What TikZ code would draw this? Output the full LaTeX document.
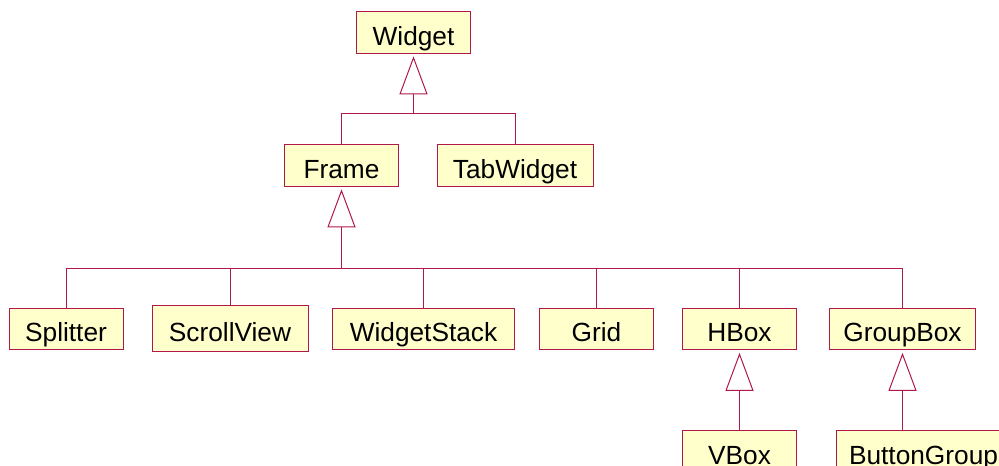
\documentclass[tikz,border=0pt]{standalone}
\usepackage{fontspec}
\setmainfont{Liberation Sans}
\usepackage{xcolor}
\usepackage{tikz}
\usetikzlibrary{arrows.meta, calc}

\definecolor{umlline}{RGB}{176,24,76}
\definecolor{umlfill}{RGB}{255,255,204}

\begin{document}
\begin{tikzpicture}[
    x=0.75pt, y=-0.75pt,
    cls/.style={
        rectangle,
        draw=umlline,
        fill=umlfill,
        line width=0.75pt,
        minimum height=31pt,
        inner sep=0pt,
        text height=19pt,
        text depth=0pt,
        font=\fontsize{19.7}{23}\selectfont
    },
    link/.style={
        draw=umlline,
        line width=0.75pt
    },
    inherit/.style={
        link,
        -{Triangle[open, length=28.5pt, width=21pt]},
        shorten >=2pt
    }
]
\useasboundingbox (0,0) rectangle (999,466);

% Classes
\node [cls, minimum width=85pt] (widget) at (413.5,32.5) {Widget};
\node [cls, minimum width=85pt] (frame) at (341.5,165.5) {Frame};
\node [cls, minimum width=117pt] (tab) at (515,165.5) {TabWidget};

\node [cls, minimum width=85.5pt] (split) at (66,329) {Splitter};
\node [cls, minimum width=117pt, minimum height=34pt] (scroll) at (230,328.5) {ScrollView};
\node [cls, minimum width=136pt] (stack) at (423.5,329) {WidgetStack};
\node [cls, minimum width=85pt] (grid) at (596.5,329) {Grid};
\node [cls, minimum width=85pt] (hbox) at (739.5,329) {HBox};
\node [cls, minimum width=110pt] (groupbox) at (902.5,329) {GroupBox};

\node [cls, minimum width=85pt] (vbox) at (739.5,451.5) {VBox};
\node [cls, minimum width=130pt] (bgroup) at (923.5,451.5) {ButtonGroup};

% Inheritance
\coordinate (wbar) at ($(widget.south)+(0,60)$);
\draw [link] (frame.north) |- (wbar) -| (tab.north);
\draw [inherit] (wbar) -- (widget.south);

\coordinate (fbar) at ($(frame.south)+(0,82)$);
\foreach \c in {split, scroll, stack, grid, hbox, groupbox}
    \draw [link] (\c.north) |- (fbar);
\draw [inherit] (fbar) -- (frame.south);

\draw [inherit] (vbox.north) -- (hbox.south);
\draw [inherit] (groupbox.south |- bgroup.north) -- (groupbox.south);

\end{tikzpicture}
\end{document}
